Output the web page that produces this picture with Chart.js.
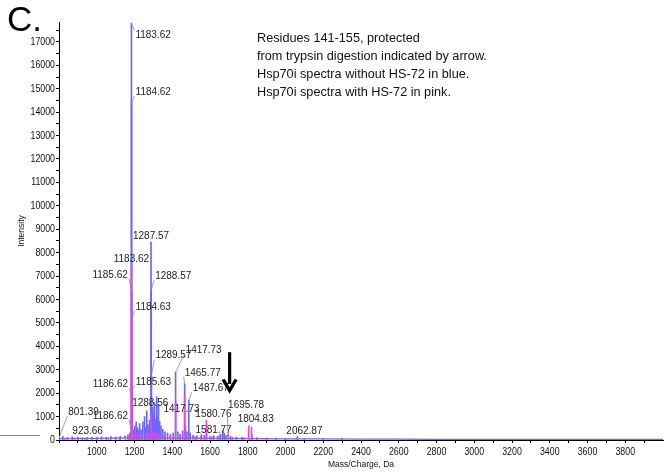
<!DOCTYPE html>
<html>
<head>
<meta charset="utf-8">
<script src="https://cdn.jsdelivr.net/npm/chart.js@4.4.1/dist/chart.umd.min.js"></script>
<style>
  html, body { margin: 0; padding: 0; background: #fff; }
  #wrap { position: relative; width: 671px; height: 476px; }
  #c { position: absolute; left: 0; top: 0; }
  .panel { position: absolute; left: 7px; top: -1px; font: 35px "Liberation Sans", Arial, sans-serif; color: #000; }
  .note { position: absolute; left: 257px; top: 29px; font: 12.7px "Liberation Sans", Arial, sans-serif; line-height: 18px; color: #111; }
</style>
</head>
<body>
<div id="wrap">
  <canvas id="c" width="671" height="476"></canvas>
  <div class="panel">C.</div>
  <div class="note">Residues 141-155, protected<br>from trypsin digestion indicated by arrow.<br>Hsp70i spectra without HS-72 in blue.<br>Hsp70i spectra with HS-72 in pink.</div>
</div>
<script>
// ---------- DATA ----------
// Hsp70i without HS-72 (blue)
const blueMz = [801.39, 820, 845, 870, 900, 923.66, 950, 975, 1000, 1025, 1050, 1075, 1100, 1125, 1150, 1165, 1175,
  1183.62, 1184.62, 1185.62, 1186.62, 1195, 1201, 1209, 1216, 1222, 1227, 1235, 1244, 1253, 1259, 1265, 1272, 1280,
  1287.57, 1288.57, 1289.57, 1297, 1301, 1306, 1311, 1318, 1322, 1327, 1333, 1340, 1350, 1362, 1375, 1390, 1405,
  1417.73, 1430, 1442, 1455, 1465.77, 1470, 1478, 1487.67, 1495, 1510, 1530, 1555, 1570, 1600, 1620, 1640, 1655,
  1667, 1675, 1685, 1710, 1740, 1770, 1822, 1850, 1900, 1950, 2000, 2062.87, 2100, 2200, 2300];
const blueIntensity = [120, 160, 110, 140, 120, 100, 110, 130, 120, 140, 110, 150, 130, 160, 180, 220, 300,
  17800, 14400, 6400, 1900, 450, 600, 780, 520, 400, 700, 450, 770, 1000, 550, 1250, 650, 850,
  8450, 6400, 2750, 1400, 1100, 1600, 900, 1850, 1000, 1500, 800, 600, 450, 350, 300, 250, 300,
  2900, 350, 250, 400, 2400, 600, 350, 1700, 300, 200, 180, 250, 200, 150, 180, 160, 250,
  400, 300, 200, 150, 130, 120, 200, 100, 90, 80, 70, 150, 60, 50, 60];

// Hsp70i with HS-72 (pink)
const pinkMz = [830, 880, 940, 1000, 1060, 1120, 1170, 1183.62, 1184.63, 1185.63, 1186.62, 1192, 1205, 1220, 1240,
  1260, 1280, 1288.56, 1290, 1300, 1315, 1330, 1360, 1390, 1417.73, 1440, 1465.77, 1490, 1520, 1550, 1580.76,
  1581.77, 1610, 1650, 1695.78, 1720, 1780, 1804.83, 1820, 1850, 1900, 2000, 2300];
const pinkIntensity = [80, 90, 80, 90, 80, 100, 150, 7400, 5150, 2100, 350, 250, 300, 250, 200,
  300, 250, 1100, 450, 350, 300, 250, 200, 150, 1600, 150, 1900, 200, 150, 150, 850,
  300, 150, 200, 250, 120, 100, 600, 550, 80, 70, 60, 50];

// low-level baseline of the spectra
const baselineMz = [800, 1000, 1200, 1400, 1600, 1800, 2000, 2200, 2400, 2600, 2800, 3000, 3200, 3400, 3600, 3800, 4000];
const baselineIntensity = [60, 70, 90, 80, 70, 60, 50, 45, 40, 35, 30, 30, 30, 30, 30, 30, 30];

// labelled peaks
const labelSeries = ['blue','blue','pink','blue','blue','blue','pink','blue','blue','blue','blue','blue','pink','pink',
  'pink','pink','pink','pink','pink','pink','blue','blue','blue'];
const labelMz = [1183.62, 1184.62, 1183.62, 1185.62, 1287.57, 1288.57, 1184.63, 1289.57, 1417.73, 1465.77, 1487.67,
  1186.62, 1185.63, 1288.56, 1417.73, 1186.62, 1580.76, 1581.77, 1695.78, 1804.83, 2062.87, 801.39, 923.66];

// arrow (m/z, from intensity, to intensity)
const arrowMz = 1704;
const arrowFrom = 3750;
const arrowTo = 2050;

// axis ticks
const xMin = 800, xMax = 4000;
const xTicks = [800, 900, 1000, 1100, 1200, 1300, 1400, 1500, 1600, 1700, 1800, 1900, 2000, 2100, 2200, 2300, 2400,
  2500, 2600, 2700, 2800, 2900, 3000, 3100, 3200, 3300, 3400, 3500, 3600, 3700, 3800, 3900];
const xTickLabels = ['', '', '1000', '', '1200', '', '1400', '', '1600', '', '1800', '', '2000', '', '2200', '', '2400',
  '', '2600', '', '2800', '', '3000', '', '3200', '', '3400', '', '3600', '', '3800', ''];
const yMin = 0, yMax = 17850;
const yTicks = [0, 500, 1000, 1500, 2000, 2500, 3000, 3500, 4000, 4500, 5000, 5500, 6000, 6500, 7000, 7500, 8000,
  8500, 9000, 9500, 10000, 10500, 11000, 11500, 12000, 12500, 13000, 13500, 14000, 14500, 15000, 15500, 16000,
  16500, 17000, 17500];
const yTickLabels = ['0', '', '1000', '', '2000', '', '3000', '', '4000', '', '5000', '', '6000', '', '7000', '',
  '8000', '', '9000', '', '10000', '', '11000', '', '12000', '', '13000', '', '14000', '', '15000', '', '16000',
  '', '17000', ''];

// ---------- LAYOUT / STYLE ----------
const BLUE = 'rgb(104,104,255)';
const PINK = 'rgb(242,64,218)';
const FONT = '"Liberation Sans", Arial, sans-serif';
const TICK_SQUEEZE = 0.8;    // narrow-typeface look of the instrument software
const LABEL_SQUEEZE = 0.95;
// label text offsets from peak tops (px): dx, dy, align, leader
const labelLayout = [
  [4, 11.5, 'left', 1], [4, -11, 'left', 1], [0, -8, 'center', 0], [-4, -15, 'right', 1],
  [0, -6, 'center', 0], [4, -14, 'left', 1], [4, -12.5, 'left', 1], [4, -20, 'left', 1],
  [10, -22, 'left', 1], [0, -11, 'left', 1], [4, -12, 'left', 1], [-4, -11.5, 'right', 1],
  [4, -9, 'left', 1], [-1, -11, 'center', 0], [6, 6.5, 'center', 0], [-4, -16, 'right', 1],
  [-11, -6, 'left', 0], [-11, -3, 'left', 0], [0, -29, 'left', 1], [-11, -7, 'left', 0],
  [-11, -5.5, 'left', 0], [9, -25, 'left', 1], [-10, -6.5, 'left', 0]
];

function squeezedText(ctx, text, x, y, align, k) {
  ctx.save();
  ctx.translate(x, y);
  ctx.scale(k, 1);
  ctx.textAlign = align;
  ctx.fillText(text, 0, 0);
  ctx.restore();
}

// draw the library's tick labels with a condensed look
const narrowTicks = {
  id: 'narrowTicks',
  afterLayout(chart) {
    ['x', 'y'].forEach(id => {
      const s = chart.scales[id];
      if (s._narrow) return;
      s._narrow = true;
      s.drawLabels = function (area) {
        const ctx = this.ctx;
        for (const item of this.getLabelItems(area)) {
          const o = item.options;
          if (!item.label) continue;
          ctx.save();
          ctx.translate(o.translation[0], o.translation[1]);
          ctx.scale(TICK_SQUEEZE, 1);
          ctx.font = item.font.string;
          ctx.fillStyle = o.color;
          ctx.textAlign = o.textAlign;
          ctx.textBaseline = o.textBaseline;
          ctx.fillText(item.label, 0, item.textOffset);
          ctx.restore();
        }
      };
    });
  }
};

const labelPlugin = {
  id: 'peakLabels',
  afterDatasetsDraw(chart) {
    const ctx = chart.ctx, xs = chart.scales.x, ys = chart.scales.y;
    ctx.save();
    ctx.font = '10.5px ' + FONT;
    ctx.fillStyle = '#222';
    ctx.strokeStyle = '#8a8a8a';
    ctx.lineWidth = 0.8;
    ctx.textBaseline = 'middle';
    labelMz.forEach((mz, i) => {
      const isBlue = labelSeries[i] === 'blue';
      const mzs = isBlue ? blueMz : pinkMz;
      const ints = isBlue ? blueIntensity : pinkIntensity;
      const k = mzs.indexOf(mz);
      const px = xs.getPixelForValue(mz), py = ys.getPixelForValue(ints[k]);
      const [dx, dy, align, leader] = labelLayout[i];
      const tx = px + dx, ty = py + dy;
      if (leader) {
        const ey = ty + (dy < 0 ? 4 : -4);
        const ex = align === 'left' ? tx - 1 : align === 'right' ? tx + 1 : tx;
        ctx.beginPath(); ctx.moveTo(px, py); ctx.lineTo(ex, ey); ctx.stroke();
      }
      squeezedText(ctx, mz.toFixed(2), tx, ty, align, LABEL_SQUEEZE);
    });
    // arrow
    const ax = xs.getPixelForValue(arrowMz);
    const ay0 = ys.getPixelForValue(arrowFrom), ay1 = ys.getPixelForValue(arrowTo);
    ctx.fillStyle = '#000';
    ctx.fillRect(ax - 1.6, ay0, 3.2, ay1 - ay0 - 8);
    ctx.beginPath();
    ctx.moveTo(ax - 6.5, ay1 - 12.5); ctx.lineTo(ax, ay1 - 1.5); ctx.lineTo(ax + 6.5, ay1 - 12.5);
    ctx.lineWidth = 3.4; ctx.strokeStyle = '#000'; ctx.lineJoin = 'miter'; ctx.stroke();
    // stray mark at the far left of the figure
    ctx.strokeStyle = '#888'; ctx.lineWidth = 1;
    ctx.beginPath(); ctx.moveTo(0, 435.5); ctx.lineTo(40, 435.5); ctx.stroke();
    ctx.restore();
  }
};

new Chart(document.getElementById('c'), {
  type: 'bar',
  data: {
    datasets: [
      { label: 'with HS-72', data: pinkMz.map((m, i) => ({ x: m, y: pinkIntensity[i] })),
        backgroundColor: PINK, barThickness: 1, order: 0 },
      { label: 'without HS-72', data: blueMz.map((m, i) => ({ x: m, y: blueIntensity[i] })),
        backgroundColor: BLUE, barThickness: 1, order: 1 },
      { type: 'line', label: 'baseline', data: baselineMz.map((m, i) => ({ x: m, y: baselineIntensity[i] })),
        borderColor: 'rgb(140,90,240)', borderWidth: 1.2, pointRadius: 0, tension: 0, order: 2 }
    ]
  },
  options: {
    responsive: false,
    animation: false,
    devicePixelRatio: 1,
    datasets: { bar: { grouped: false } },
    layout: { padding: { top: 22, right: 8, left: 0, bottom: 0 } },
    plugins: { legend: { display: false }, tooltip: { enabled: false } },
    scales: {
      x: {
        type: 'linear', min: xMin, max: xMax, offset: false,
        afterBuildTicks(s) { s.ticks = xTicks.map(v => ({ value: v })); },
        afterFit(s) { s.height = 36; },
        border: { color: '#000', width: 1 },
        grid: { drawOnChartArea: false, drawTicks: true, tickLength: 3, tickColor: '#000', offset: false },
        ticks: {
          autoSkip: false, maxRotation: 0, padding: 2, color: '#111',
          font: { family: FONT, size: 11 },
          callback: (v, i) => xTickLabels[xTicks.indexOf(v)] || ''
        },
        title: { display: true, text: 'Mass/Charge, Da', color: '#111', font: { family: FONT, size: 8.5 },
          padding: { top: 0, bottom: 6 } }
      },
      y: {
        min: yMin, max: yMax,
        afterBuildTicks(s) { s.ticks = yTicks.map(v => ({ value: v })); },
        afterFit(s) { s.width = 59; },
        border: { color: '#000', width: 1 },
        grid: { drawOnChartArea: false, drawTicks: true, tickLength: 3, tickColor: '#000' },
        ticks: {
          autoSkip: false, padding: 1, color: '#111',
          font: { family: FONT, size: 11 },
          callback: (v, i) => yTickLabels[yTicks.indexOf(v)] || ''
        },
        title: { display: true, text: 'Intensity', color: '#111', font: { family: FONT, size: 8.5 },
          padding: { top: 17, bottom: 0 } }
      }
    }
  },
  plugins: [narrowTicks, labelPlugin]
});
</script>
</body>
</html>
